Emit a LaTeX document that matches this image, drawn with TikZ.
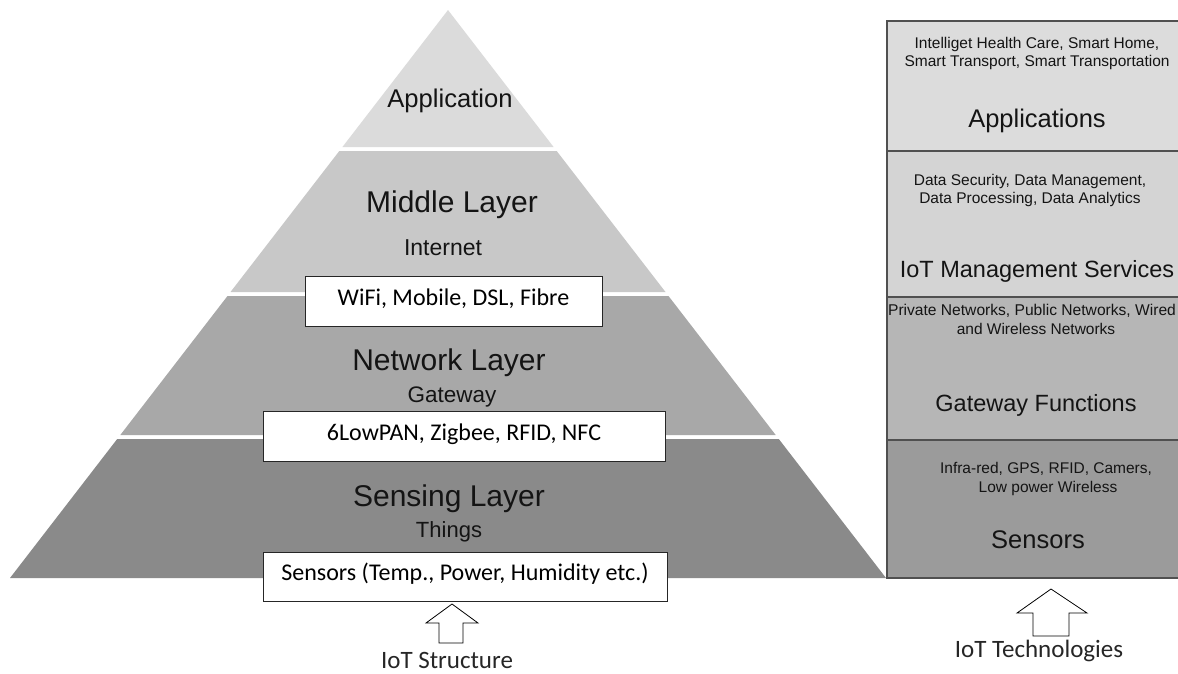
\documentclass[tikz,border=0pt]{standalone}
\usepackage{fontspec}
\setmainfont{Liberation Sans}
\newfontfamily\calfont{Carlito}
\definecolor{pyrA}{RGB}{219,219,219}
\definecolor{pyrB}{RGB}{200,200,200}
\definecolor{pyrC}{RGB}{168,168,168}
\definecolor{pyrD}{RGB}{138,138,138}
\definecolor{colA}{RGB}{220,220,220}
\definecolor{colB}{RGB}{212,212,212}
\definecolor{colC}{RGB}{182,182,182}
\definecolor{colD}{RGB}{155,155,155}
\definecolor{edgegray}{RGB}{80,80,80}
\begin{document}
\begin{tikzpicture}[x=1pt,y=-1pt,
  lbl/.style={inner sep=0pt, anchor=base, text=black!92},
  wbox/.style={draw=black!85, line width=0.9pt, fill=white, inner sep=0pt,
    font=\calfont\fontsize{24}{28}\selectfont, text height=12pt, text depth=4pt},
  band/.style={draw=edgegray, line width=1.2pt},
  blockarrow/.style={draw=black, line width=0.8pt, fill=white, line join=miter},
  cal/.style={inner sep=0pt, anchor=base, font=\calfont\fontsize{25}{30}\selectfont, text=black!85}
]
\useasboundingbox (0,0) rectangle (1178,673);
% ---------- pyramid ----------
\fill[pyrA] (448,10) -- (553.6,147) -- (342.4,147) -- cycle;
\fill[pyrB] (339.3,151) -- (556.7,151) -- (665.5,292) -- (230.5,292) -- cycle;
\fill[pyrC] (227.5,296) -- (668.5,296) -- (775.7,435) -- (120.3,435) -- cycle;
\fill[pyrD] (117.2,439) -- (778.8,439) -- (886,578) -- (10,578) -- cycle;

\node[lbl, font=\fontsize{25.6}{30}\selectfont] (app) at (450,107) {Application};
\node[lbl, font=\fontsize{30}{36}\selectfont] (mid) at (452,212) {Middle Layer};
\node[lbl, font=\fontsize{23}{28}\selectfont] (inet) at (443,255) {Internet};
\node[wbox, minimum width=297pt, minimum height=50pt] (wifi) at (453.5,301) {WiFi, Mobile, DSL, Fibre};
\node[lbl, font=\fontsize{30}{36}\selectfont] (net) at (449,370) {Network Layer};
\node[lbl, font=\fontsize{22.5}{28}\selectfont] (gw) at (452,402) {Gateway};
\node[wbox, minimum width=402pt, minimum height=50pt] (lowpan) at (464,436) {6LowPAN, Zigbee, RFID, NFC};
\node[lbl, font=\fontsize{30}{36}\selectfont] (sens) at (449,506) {Sensing Layer};
\node[lbl, font=\fontsize{22}{28}\selectfont] (things) at (449,537) {Things};
\node[wbox, minimum width=404pt, minimum height=49pt] (sensors) at (465,576.5) {Sensors (Temp., Power, Humidity etc.)};

\draw[blockarrow] (452,604) -- (478,623) -- (463,623) -- (463,643) -- (439,643) -- (439,623) -- (426,623) -- cycle;
\node[cal] (structure) at (447,668) {IoT Structure};

% ---------- right column ----------
\fill[colA] (887,21) rectangle (1180,151);
\fill[colB] (887,151) rectangle (1180,297);
\fill[colC] (887,297) rectangle (1180,440);
\fill[colD] (887,440) rectangle (1180,578);
\draw[band] (1180,21) -- (887,21) -- (887,578) -- (1180,578);
\draw[band] (887,151) -- (1180,151);
\draw[band] (887,297) -- (1180,297);
\draw[band] (887,440) -- (1180,440);

\node[lbl, font=\fontsize{15.5}{18}\selectfont] (a1) at (1037,48) {Intelliget Health Care, Smart Home,};
\node[lbl, font=\fontsize{15.5}{18}\selectfont] (a2) at (1037,66) {Smart Transport, Smart Transportation};
\node[lbl, font=\fontsize{25.5}{30}\selectfont] (apps) at (1037,127) {Applications};
\node[lbl, font=\fontsize{15.5}{18}\selectfont] (b1) at (1030,185) {Data Security, Data Management,};
\node[lbl, font=\fontsize{15.5}{18}\selectfont] (b2) at (1030,203) {Data Processing, Data Analytics};
\node[lbl, font=\fontsize{23.5}{28}\selectfont] (mgmt) at (1037,277) {IoT Management Services};
\node[lbl, font=\fontsize{15.6}{19}\selectfont] (c1) at (1032,315) {Private Networks, Public Networks, Wired};
\node[lbl, font=\fontsize{15.5}{18}\selectfont] (c2) at (1036,334) {and Wireless Networks};
\node[lbl, font=\fontsize{23.5}{28}\selectfont] (gwf) at (1036,411) {Gateway Functions};
\node[lbl, font=\fontsize{15.5}{18}\selectfont] (d1) at (1046,473) {Infra-red, GPS, RFID, Camers,};
\node[lbl, font=\fontsize{15.5}{18}\selectfont] (d2) at (1048,492) {Low power Wireless};
\node[lbl, font=\fontsize{25.5}{30}\selectfont] (sensorsR) at (1038,548) {Sensors};

\draw[blockarrow] (1051,589) -- (1087,613) -- (1069,613) -- (1069,636) -- (1033,636) -- (1033,613) -- (1017,613) -- cycle;
\node[cal] (tech) at (1039,657) {IoT Technologies};
\end{tikzpicture}
\end{document}
